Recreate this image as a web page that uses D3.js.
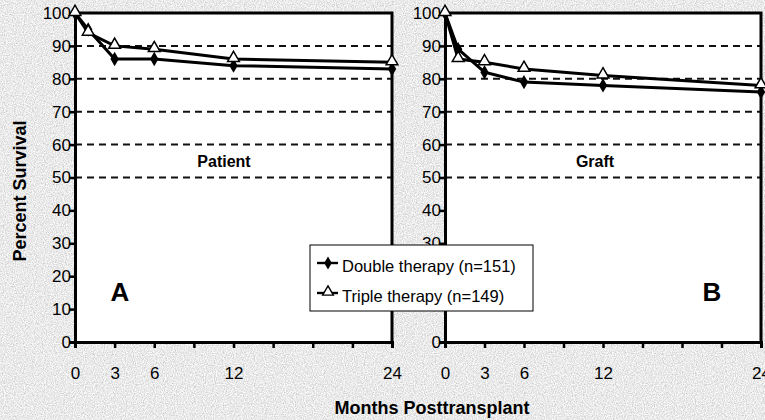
<!DOCTYPE html>
<html>
<head>
<meta charset="utf-8">
<script src="https://cdn.jsdelivr.net/npm/d3@7"></script>
<style>
  body { margin: 0; background: #fff; }
  svg { display: block; font-family: "Liberation Sans", Arial, sans-serif; }
</style>
</head>
<body>
<script>
let width = 765;
let height = 420;

// data
let months = [0, 1, 3, 6, 12, 24];
let patientDouble = [100, 95, 86, 86, 84, 83];
let patientTriple = [100, 94, 90, 89, 86, 85];
let graftDouble = [100, 89, 82, 79, 78, 76];
let graftTriple = [100, 86, 85, 83, 81, 78];
let yTicks = [0, 10, 20, 30, 40, 50, 60, 70, 80, 90, 100];
let gridValues = [50, 60, 70, 80, 90];
let xTicks = [0, 3, 6, 9, 12, 15, 18, 21, 24];
let xLabels = [0, 3, 6, 12, 24];
let legendLabels = ["Double therapy (n=151)", "Triple therapy (n=149)"];

let svg = d3.select("body").append("svg")
    .attr("width", width)
    .attr("height", height);

// scanned paper look
let defs = svg.append("defs");
let f = defs.append("filter").attr("id", "paper")
    .attr("x", 0).attr("y", 0).attr("width", "100%").attr("height", "100%");
f.append("feTurbulence")
    .attr("type", "fractalNoise")
    .attr("baseFrequency", 0.9)
    .attr("numOctaves", 2)
    .attr("seed", 3);
f.append("feColorMatrix")
    .attr("values", "0.7 0 0 0 0.47  0.7 0 0 0 0.47  0.7 0 0 0 0.47  0 0 0 0 1");

svg.append("rect")
    .attr("width", width).attr("height", height)
    .attr("filter", "url(#paper)");

let y = d3.scaleLinear().domain([0, 100]).range([342, 13]);

const drawPanel = function (x0, x1, dbl, tpl, title, letter, letterX, hiddenLabels) {
    let x = d3.scaleLinear().domain([0, 24]).range([x0, x1]);
    let g = svg.append("g");

    g.append("rect")
        .attr("x", x(0)).attr("y", y(100))
        .attr("width", x(24) - x(0)).attr("height", y(0) - y(100))
        .style("fill", "white");

    // dashed grid
    g.selectAll("line.grid").data(gridValues).enter().append("line")
        .attr("x1", x(0)).attr("x2", x(24))
        .attr("y1", d => y(d)).attr("y2", d => y(d))
        .style("stroke", "#111")
        .style("stroke-width", 2)
        .style("stroke-dasharray", "7,5");

    // top and right border
    g.append("path")
        .attr("d", `M${x(0)},${y(100)}H${x(24)}V${y(0)}`)
        .style("fill", "none").style("stroke", "#000").style("stroke-width", 3);

    let yAxis = g.append("g")
        .attr("transform", `translate(${x(0)},0)`)
        .call(d3.axisLeft(y).tickValues(yTicks).tickSize(6).tickPadding(-2)
            .tickFormat(d => hiddenLabels.includes(d) ? "" : d));
    let xAxis = g.append("g")
        .attr("transform", `translate(0,${y(0)})`)
        .call(d3.axisBottom(x).tickValues(xTicks).tickSize(6).tickPadding(19)
            .tickFormat(d => xLabels.includes(d) ? d : ""));
    [yAxis, xAxis].forEach(a => {
        a.select(".domain").style("stroke", "#000").style("stroke-width", 3);
        a.selectAll(".tick line").style("stroke", "#000").style("stroke-width", 2.5);
        a.selectAll("text").style("font-size", "17px").style("fill", "#000")
            .style("font-family", "'Liberation Sans', Arial, sans-serif");
    });

    let line = d3.line().x((d, i) => x(months[i])).y(d => y(d));
    [tpl, dbl].forEach(s => {
        g.append("path").datum(s).attr("d", line)
            .style("fill", "none").style("stroke", "#000").style("stroke-width", 3);
    });

    g.selectAll("path.dia").data(dbl).enter().append("path")
        .attr("transform", (d, i) => `translate(${x(months[i])},${y(d)})`)
        .attr("d", d3.symbol(d3.symbolDiamond, 60))
        .style("fill", "#000");
    g.selectAll("path.tri").data(tpl).enter().append("path")
        .attr("transform", (d, i) => `translate(${x(months[i])},${y(d) - 1})`)
        .attr("d", d3.symbol(d3.symbolTriangle, 60))
        .style("fill", "white").style("stroke", "#000").style("stroke-width", 1.5);

    g.append("text")
        .attr("x", title.cx).attr("y", 167)
        .attr("text-anchor", "middle")
        .style("font-size", "16px").style("font-weight", "bold")
        .text(title.text);

    g.append("text")
        .attr("x", letterX).attr("y", 301)
        .attr("text-anchor", "middle")
        .style("font-size", "26px").style("font-weight", "bold")
        .text(letter);
};

// in panel B the legend box covers the 10 and 20 labels
drawPanel(75, 392, patientDouble, patientTriple, { text: "Patient", cx: 224 }, "A", 120, []);
drawPanel(445, 761, graftDouble, graftTriple, { text: "Graft", cx: 595 }, "B", 712, [10, 20]);

// axis titles
svg.append("text")
    .attr("transform", "translate(26,191)rotate(-90)")
    .attr("text-anchor", "middle")
    .style("font-size", "18px").style("font-weight", "bold")
    .text("Percent Survival");
svg.append("text")
    .attr("x", 432).attr("y", 414)
    .attr("text-anchor", "middle")
    .style("font-size", "18px").style("font-weight", "bold")
    .text("Months Posttransplant");

// legend
let legend = svg.append("g").attr("transform", "translate(310,245)");
legend.append("rect")
    .attr("width", 223).attr("height", 66)
    .style("fill", "white").style("stroke", "#000").style("stroke-width", 1);
legend.selectAll("g.item").data(legendLabels).enter().append("g")
    .attr("transform", (d, i) => `translate(0,${18 + i * 30})`)
    .each(function (d, i) {
        let it = d3.select(this);
        it.append("line").attr("x1", 7).attr("x2", 28)
            .style("stroke", "#000").style("stroke-width", 2.4);
        it.append("path")
            .attr("transform", `translate(18,${i ? -1 : 0})`)
            .attr("d", d3.symbol(i ? d3.symbolTriangle : d3.symbolDiamond, 50))
            .style("fill", i ? "white" : "#000")
            .style("stroke", i ? "#000" : "none").style("stroke-width", 1.4);
        it.append("text").attr("x", 32).attr("y", 9)
            .style("font-size", "16.5px")
            .text(d);
    });
</script>
</body>
</html>
